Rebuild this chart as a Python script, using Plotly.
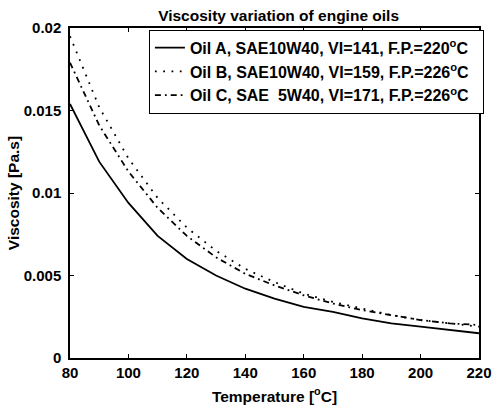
import plotly.graph_objects as go

temperature = [80, 90, 100, 110, 120, 130, 140, 150, 160, 170, 180, 190, 200, 210, 220]
oil_a = [0.0154, 0.0119, 0.0094, 0.0074, 0.0060, 0.0050, 0.0042, 0.0036, 0.0031, 0.0028, 0.0024, 0.0021, 0.0019, 0.0017, 0.0015]
oil_b = [0.0195, 0.0152, 0.0121, 0.0097, 0.0079, 0.0065, 0.0054, 0.0046, 0.0039, 0.0034, 0.0030, 0.0026, 0.0023, 0.0021, 0.0019]
oil_c = [0.0179, 0.0141, 0.0113, 0.0091, 0.0074, 0.0061, 0.0051, 0.0044, 0.0038, 0.0033, 0.0029, 0.0026, 0.0023, 0.0021, 0.0020]
names = ["Oil A, SAE10W40, VI=141, F.P.=220<sup>o</sup>C&nbsp;&nbsp;",
         "Oil B, SAE10W40, VI=159, F.P.=226<sup>o</sup>C&nbsp;&nbsp;",
         "Oil C, SAE&nbsp; 5W40, VI=171, F.P.=226<sup>o</sup>C&nbsp;&nbsp;"]
x_ticks = [80, 100, 120, 140, 160, 180, 200, 220]
y_ticks = [0, 0.005, 0.01, 0.015, 0.02]
y_tick_labels = ["0", "0.005", "0.01", "0.015", "0.02"]

font = "Liberation Sans, Arial, sans-serif"
fig = go.Figure()
for vals, nm, dash, w in [(oil_a, names[0], "solid", 1.8),
                          (oil_b, names[1], "1.8px,6.5px", 1.8),
                          (oil_c, names[2], "6px,4px,1.8px,4px", 1.8)]:
    fig.add_trace(go.Scatter(x=temperature, y=vals, mode="lines", name=nm,
                             line=dict(color="black", width=w, dash=dash)))

axis_common = dict(showline=True, linecolor="black", linewidth=1.5, mirror="ticks",
                   ticks="inside", ticklen=4, tickcolor="black", showgrid=False, zeroline=False,
                   automargin=False,
                   tickfont=dict(family=font, size=15, color="black", weight="bold"))
fig.update_xaxes(range=[80, 220], tickvals=x_ticks,
                 title=dict(text="Temperature [<sup>o</sup>C]", font=dict(family=font, size=15.5, color="black", weight="bold"), standoff=11),
                 **axis_common)
fig.update_yaxes(range=[0, 0.02], tickvals=y_ticks, ticktext=y_tick_labels, ticklabelstandoff=4,
                 title=dict(text="Viscosity [Pa.s]", font=dict(family=font, size=15.5, color="black", weight="bold"), standoff=0),
                 **axis_common)
fig.update_layout(
    width=496, height=408,
    margin=dict(l=70, r=13, t=28, b=50),
    paper_bgcolor="white", plot_bgcolor="white",
    title=dict(text="Viscosity variation of engine oils", xref="paper", x=0.51, xanchor="center", y=0.975, yanchor="top",
               font=dict(family=font, size=15.5, color="black", weight="bold")),
    legend=dict(x=1.012, xanchor="right", y=0.995, yanchor="top", bordercolor="black", borderwidth=1,
                bgcolor="white", font=dict(family=font, size=16, color="black", weight="bold"),
                tracegroupgap=0, itemwidth=30),
    showlegend=True,
)
fig.write_html("out.html")
